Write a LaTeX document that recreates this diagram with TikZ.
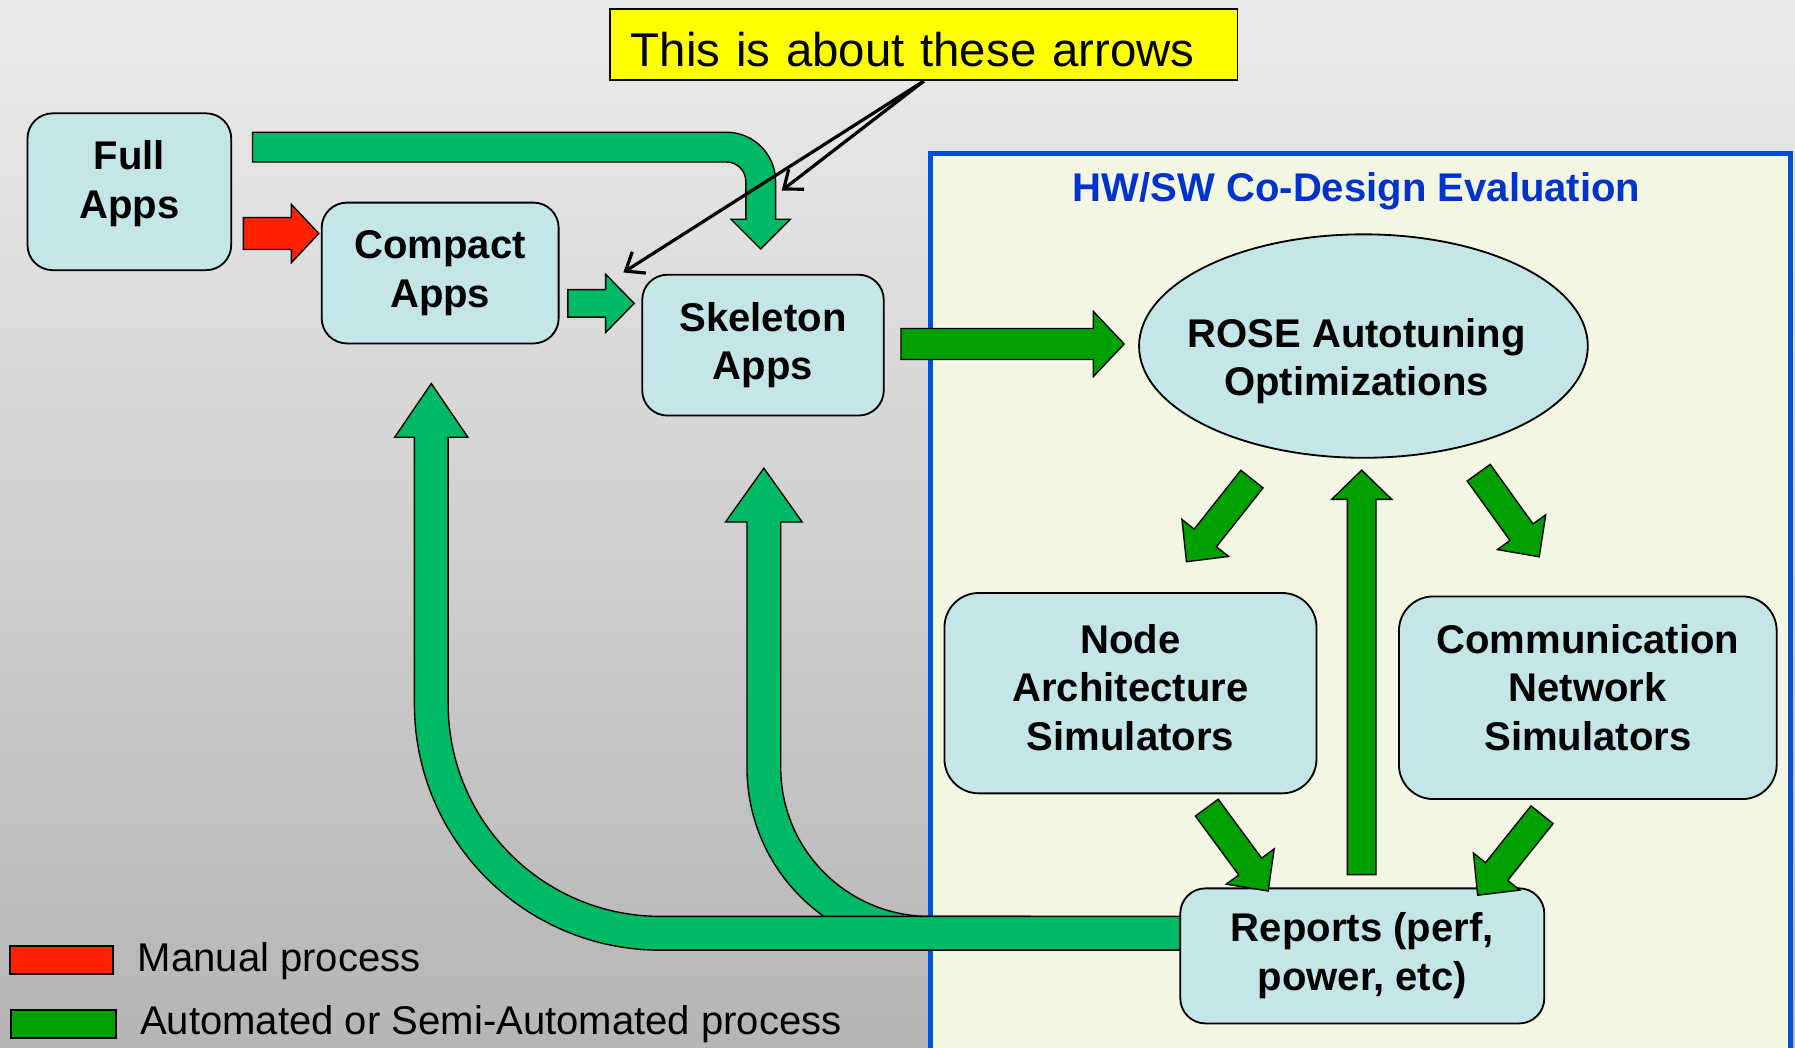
\documentclass[tikz,border=0pt]{standalone}
\usepackage{fontspec}
\setmainfont{Liberation Sans}
\usetikzlibrary{calc,shapes.geometric,arrows.meta}

\definecolor{bgtop}{RGB}{236,236,236}
\definecolor{bgbot}{RGB}{181,181,181}
\definecolor{boxfill}{RGB}{196,230,232}
\definecolor{evalfill}{RGB}{244,246,228}
\definecolor{evalblue}{RGB}{0,80,216}
\definecolor{titleblue}{RGB}{0,51,204}
\definecolor{autogreen}{RGB}{0,185,100}
\definecolor{darkgreen}{RGB}{0,160,0}
\definecolor{manualred}{RGB}{255,34,0}
\definecolor{noteyellow}{RGB}{255,255,0}

% invisible struts that move a node's text block down / up
\newcommand\txtdown[1]{\rule{0pt}{#1}}
\newcommand\txtup[1]{\rule[-#1]{0pt}{#1}}

% straight block arrow: style, tail, tip, half shaft, half head, head length
\newcommand\blockarrow[6]{%
  \coordinate (blk-base) at ($(#3)!#6!(#2)$);
  \draw[blk,#1] ($(#2)!#4!90:(#3)$)
    -- ($(blk-base)!#4!-90:(#2)$)
    -- ($(blk-base)!#5!-90:(#2)$)
    -- (#3)
    -- ($(blk-base)!#5!90:(#2)$)
    -- ($(blk-base)!#4!90:(#2)$)
    -- ($(#2)!#4!-90:(#3)$) -- cycle;}

\begin{document}
\begin{tikzpicture}[x=0.5pt,y=-0.5pt,
  lbl/.style={font=\fontsize{17.5}{21.25}\selectfont\bfseries, align=center},
  appbox/.style={draw=black, line width=0.8pt, fill=boxfill, rounded corners=11pt, inner sep=0pt, lbl},
  simbox/.style={appbox, rounded corners=15pt},
  blk/.style={draw=black, line width=0.6pt, line join=miter},
  pointer/.style={draw=black, line width=1.4pt, -{Straight Barb[length=7pt,width=11pt]}},
  legbox/.style={draw=black, line width=0.9pt, inner sep=0pt, minimum height=12.5pt},
  legtext/.style={anchor=base west, inner sep=0pt, font=\fontsize{17.5}{21}\selectfont}
]
\useasboundingbox (0,0) rectangle (1568,915);
\clip (0,0) rectangle (1568,915);

% background
\shade[top color=bgtop, bottom color=bgbot] (0,0) rectangle (1568,915);

% evaluation region
\draw[draw=evalblue, line width=2.2pt, fill=evalfill] (813,134) rectangle (1564,940);
\node[lbl, anchor=base, inner sep=0pt, text=titleblue] (evaltitle) at (1185,176) {HW/SW Co-Design Evaluation};

% feedback from the reports back to the skeleton apps (behind the band)
\draw[blk, fill=autogreen] (682,456) -- (700.75,456) -- (667.25,409) -- (633.75,456) -- (652.5,456)
  -- (652.5,670.5) arc[start angle=180, end angle=270, radius=79.75pt]
  -- (900,830) -- (900,800.5) -- (812,800.5)
  arc[start angle=270, end angle=180, radius=65pt] -- cycle;

% feedback from the reports back to the compact apps
\draw[blk, fill=autogreen] (391.5,382) -- (408.75,382) -- (376.75,335) -- (344.75,382) -- (362,382)
  -- (362,615) arc[start angle=180, end angle=270, radius=107.5pt]
  -- (1033,830) -- (1033,800.5) -- (577,800.5)
  arc[start angle=270, end angle=180, radius=92.75pt] -- cycle;

% full apps straight to skeleton apps
\draw[blk, fill=autogreen] (220.6,115.5) -- (634.5,115.5)
  arc[start angle=90, end angle=0, radius=21.5pt]
  -- (677.5,191.5) -- (690.5,191.5) -- (664.5,217.5) -- (638.5,191.5) -- (651.5,191.5)
  -- (651.5,158.5) arc[start angle=0, end angle=90, radius=8.5pt]
  -- (220.6,141.5) -- cycle;

% note
\node[draw=black, line width=0.8pt, fill=noteyellow, minimum width=274pt, minimum height=31pt,
      text width=256pt, inner xsep=9pt, inner ysep=0pt, align=left,
      font=\fontsize{20.7}{25}\selectfont] (note) at (807,39) {\txtdown{19pt}This is about these arrows};

% application boxes
\node[appbox, minimum width=89pt, minimum height=68.5pt] (full) at (113,167.5) {Full\\Apps\txtup{10.7pt}};
\node[appbox, minimum width=103.5pt, minimum height=61.5pt] (compact) at (384.5,238.5) {Compact\\Apps};
\node[appbox, minimum width=105.5pt, minimum height=61.5pt] (skeleton) at (666.5,301.5) {Skeleton\\Apps};

% evaluation tools
\node[ellipse, draw=black, line width=0.8pt, fill=boxfill, minimum width=196pt, minimum height=97.6pt,
      inner sep=0pt] (rose) at (1191,302.3) {};
\node[lbl] (rosetext) at (1185,315.5) {ROSE Autotuning\\Optimizations};
\node[simbox, minimum width=162.5pt, minimum height=87.5pt] (nodesim) at (987.5,605.5) {Node\\Architecture\\Simulators\txtup{5pt}};
\node[simbox, minimum width=165pt, minimum height=88.5pt] (netsim) at (1387,609.5) {Communication\\Network\\Simulators\txtup{9pt}};
\node[appbox, minimum width=159pt, minimum height=59pt] (reports) at (1190,835) {Reports (perf,\\power, etc)};

% end points of the straight block arrows
\coordinate (man-a) at (212.6,204);   \coordinate (man-b) at (278.5,204);
\coordinate (cs-a) at (496,265);      \coordinate (cs-b) at (554,265);
\coordinate (sr-a) at (787,300.5);    \coordinate (sr-b) at (982,300.5);
\coordinate (rn-a) at (1093.6,418.5); \coordinate (rn-b) at (1036.4,490.7);
\coordinate (rc-a) at (1291.7,412.9); \coordinate (rc-b) at (1344.6,486.4);
\coordinate (nr-a) at (1054.2,705.5); \coordinate (nr-b) at (1107.8,778.3);
\coordinate (cr-a) at (1347,711.7);   \coordinate (cr-b) at (1290.8,782);
\coordinate (up-a) at (1189.5,764);   \coordinate (up-b) at (1189.5,410.7);

\blockarrow{fill=manualred}{man-a}{man-b}{7pt}{12.75pt}{12pt}
\blockarrow{fill=autogreen}{cs-a}{cs-b}{6pt}{12.75pt}{12.5pt}
\blockarrow{fill=darkgreen}{sr-a}{sr-b}{6.75pt}{14.25pt}{13.5pt}
\blockarrow{fill=darkgreen}{rn-a}{rn-b}{6.2pt}{13pt}{13.25pt}
\blockarrow{fill=darkgreen}{rc-a}{rc-b}{6.2pt}{13pt}{13.25pt}
\blockarrow{fill=darkgreen}{nr-a}{nr-b}{6.2pt}{13pt}{13.25pt}
\blockarrow{fill=darkgreen}{cr-a}{cr-b}{6.2pt}{13pt}{13.25pt}
\blockarrow{fill=darkgreen}{up-a}{up-b}{6.25pt}{13.1pt}{12.75pt}

% pointers from the note
\coordinate (ptr-cs) at (544.5,238);
\coordinate (ptr-fs) at (682.8,166.5);
\draw[pointer] (note.south) -- (ptr-cs);
\draw[pointer] (note.south) -- (ptr-fs);

% legend
\node[legbox, fill=manualred, minimum width=45pt] (legmanual) at (54,838.5) {};
\node[legbox, fill=darkgreen, minimum width=45.5pt] (legauto) at (55.5,894.5) {};
\node[legtext] (legmanualtext) at (120,849) {Manual process};
\node[legtext] (legautotext) at (122,903.5) {Automated or Semi-Automated process};
\end{tikzpicture}
\end{document}
